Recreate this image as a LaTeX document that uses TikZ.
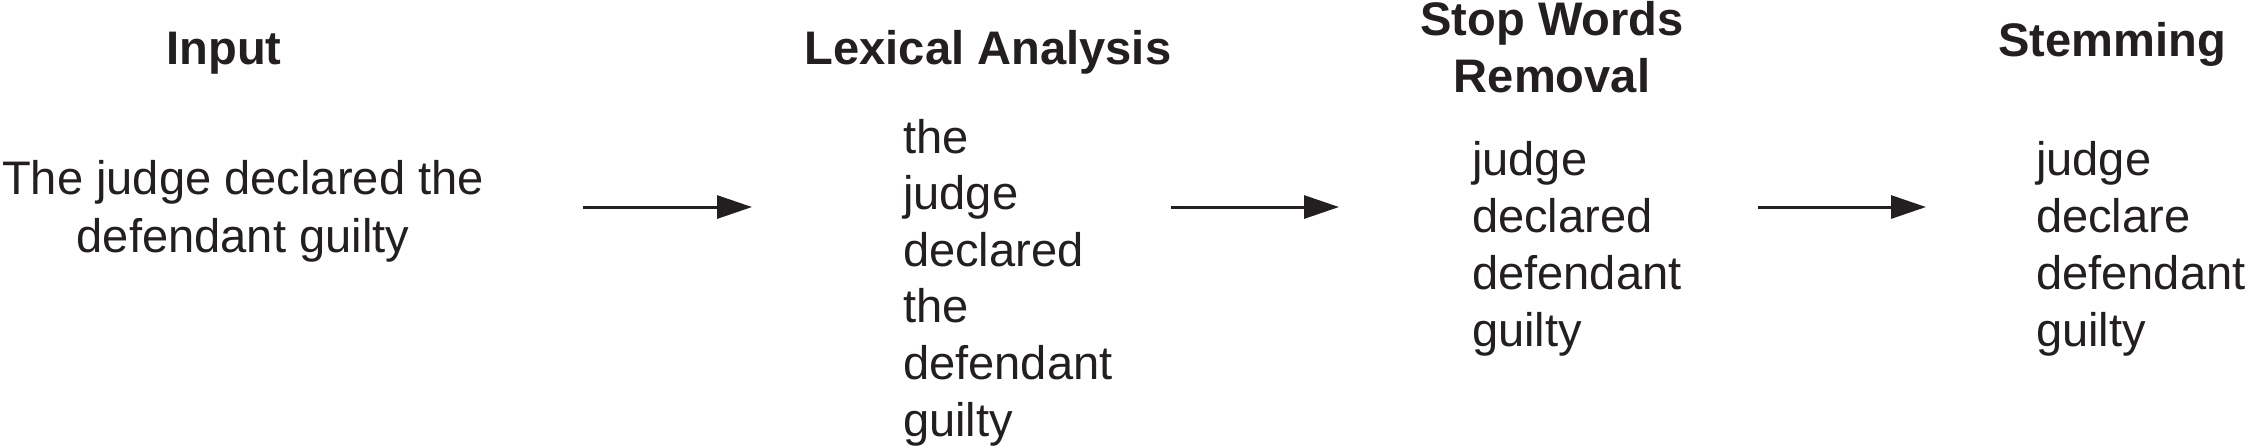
\documentclass[tikz,border=0pt]{standalone}
\usepackage{fontspec}
\setmainfont{Liberation Sans}
\usetikzlibrary{arrows.meta}
\definecolor{ink}{RGB}{35,31,32}
\newcommand\mycstack[2]{\vtop{\baselineskip=#1\lineskiplimit=-10pt\halign{\hfil##\hfil\cr#2\crcr}}}
\newcommand\mylstack[2]{\vtop{\baselineskip=#1\lineskiplimit=-10pt\halign{##\hfil\cr#2\crcr}}}
\begin{document}
\begin{tikzpicture}[
  txt/.style={inner sep=0pt, outer sep=0pt, text=ink, font=\fontsize{13.4}{16}\selectfont},
  ttl/.style={txt, font=\fontsize{13.4}{16}\selectfont\bfseries},
  arr/.style={draw=ink, line width=0.85pt, -{Triangle[length=0.35cm, width=0.23cm]}}
]
\useasboundingbox (0,0) rectangle (22.49,-4.46);
% titles
\node[ttl, anchor=base] (tinput) at (2.24,-0.64) {Input};
\node[ttl, anchor=base] (tlex) at (9.88,-0.643) {Lexical Analysis};
\node[ttl, anchor=base] (tstop) at (15.52,-0.35) {\mycstack{0.57cm}{Stop Words\cr Removal}};
\node[ttl, anchor=base] (tstem) at (21.12,-0.56) {Stemming};
% contents
\node[txt, anchor=base] (input) at (2.43,-1.945) {\mycstack{0.58cm}{The judge declared the\cr defendant guilty}};
\node[txt, anchor=base west] (lex) at (9.03,-1.53) {\mylstack{0.566cm}{the\cr judge\cr declared\cr the\cr defendant\cr guilty}};
\node[txt, anchor=base west] (stop) at (14.72,-1.753) {\mylstack{0.57cm}{judge\cr declared\cr defendant\cr guilty}};
\node[txt, anchor=base west] (stem) at (20.36,-1.754) {\mylstack{0.57cm}{judge\cr declare\cr defendant\cr guilty}};
% arrows
\coordinate (a1s) at (5.83,-2.07);
\coordinate (a1e) at (7.52,-2.07);
\coordinate (a2s) at (11.71,-2.07);
\coordinate (a2e) at (13.39,-2.07);
\coordinate (a3s) at (17.58,-2.07);
\coordinate (a3e) at (19.26,-2.07);
\draw[arr] (a1s) -- (a1e);
\draw[arr] (a2s) -- (a2e);
\draw[arr] (a3s) -- (a3e);
\end{tikzpicture}
\end{document}
